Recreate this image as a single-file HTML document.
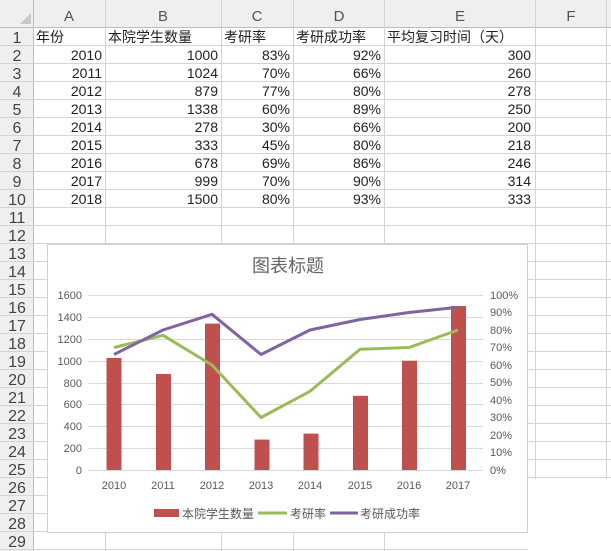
<!DOCTYPE html>
<html><head><meta charset="utf-8"><style>
body{margin:0;background:#fff;}
svg{display:block;font-family:"Liberation Sans","Noto Sans CJK SC",sans-serif;}
</style></head><body>
<svg width="611" height="551" viewBox="0 0 611 551" xmlns="http://www.w3.org/2000/svg">
<rect width="611" height="551" fill="#fff"/>
<rect x="0" y="0" width="611" height="27" fill="#efefef"/>
<rect x="0" y="0" width="33" height="551" fill="#efefef"/>
<polygon points="20,24 31,24 31,13" fill="#c8c8c8"/>
<g stroke="#d4d4d4" stroke-width="1">
<line x1="0" y1="27.5" x2="611" y2="27.5" stroke="#bdbdbd"/>
<line x1="33.5" y1="0" x2="33.5" y2="551" stroke="#bdbdbd"/>
<line x1="105.5" y1="0" x2="105.5" y2="551"/>
<line x1="221.5" y1="0" x2="221.5" y2="551"/>
<line x1="293.5" y1="0" x2="293.5" y2="551"/>
<line x1="384.5" y1="0" x2="384.5" y2="551"/>
<line x1="535.5" y1="0" x2="535.5" y2="551"/>
<line x1="606.5" y1="0" x2="606.5" y2="551"/>
<line x1="0" y1="45.5" x2="611" y2="45.5"/><line x1="0" y1="63.5" x2="611" y2="63.5"/>
<line x1="0" y1="81.5" x2="611" y2="81.5"/><line x1="0" y1="99.5" x2="611" y2="99.5"/>
<line x1="0" y1="117.5" x2="611" y2="117.5"/><line x1="0" y1="135.5" x2="611" y2="135.5"/>
<line x1="0" y1="153.5" x2="611" y2="153.5"/><line x1="0" y1="171.5" x2="611" y2="171.5"/>
<line x1="0" y1="189.5" x2="611" y2="189.5"/><line x1="0" y1="207.5" x2="611" y2="207.5"/>
<line x1="0" y1="225.5" x2="611" y2="225.5"/><line x1="0" y1="243.5" x2="611" y2="243.5"/>
<line x1="0" y1="261.5" x2="611" y2="261.5"/><line x1="0" y1="279.5" x2="611" y2="279.5"/>
<line x1="0" y1="297.5" x2="611" y2="297.5"/><line x1="0" y1="315.5" x2="611" y2="315.5"/>
<line x1="0" y1="333.5" x2="611" y2="333.5"/><line x1="0" y1="351.5" x2="611" y2="351.5"/>
<line x1="0" y1="369.5" x2="611" y2="369.5"/><line x1="0" y1="387.5" x2="611" y2="387.5"/>
<line x1="0" y1="405.5" x2="611" y2="405.5"/><line x1="0" y1="423.5" x2="611" y2="423.5"/>
<line x1="0" y1="441.5" x2="611" y2="441.5"/><line x1="0" y1="459.5" x2="611" y2="459.5"/>
<line x1="0" y1="477.5" x2="611" y2="477.5"/><line x1="0" y1="495.5" x2="611" y2="495.5"/>
<line x1="0" y1="513.5" x2="611" y2="513.5"/><line x1="0" y1="531.5" x2="611" y2="531.5"/>
<line x1="0" y1="549.5" x2="611" y2="549.5"/>
</g>
<rect x="528" y="479" width="83" height="72" fill="#fff"/>
<g font-size="15" fill="#555" text-anchor="middle">
<text x="69" y="21">A</text><text x="163" y="21">B</text><text x="257" y="21">C</text>
<text x="339" y="21">D</text><text x="460" y="21">E</text><text x="571" y="21">F</text>
</g>
<g font-size="16" fill="#444" text-anchor="middle">
<text x="17" y="43">1</text><text x="17" y="61">2</text><text x="17" y="79">3</text><text x="17" y="97">4</text>
<text x="17" y="115">5</text><text x="17" y="133">6</text><text x="17" y="151">7</text><text x="17" y="169">8</text>
<text x="17" y="187">9</text><text x="17" y="205">10</text><text x="17" y="223">11</text><text x="17" y="241">12</text>
<text x="17" y="259">13</text><text x="17" y="277">14</text><text x="17" y="295">15</text><text x="17" y="313">16</text>
<text x="17" y="331">17</text><text x="17" y="349">18</text><text x="17" y="367">19</text><text x="17" y="385">20</text>
<text x="17" y="403">21</text><text x="17" y="421">22</text><text x="17" y="439">23</text><text x="17" y="457">24</text>
<text x="17" y="475">25</text><text x="17" y="493">26</text><text x="17" y="511">27</text><text x="17" y="529">28</text>
<text x="17" y="547">29</text>
</g>
<g font-size="14" fill="#222">
<text x="36" y="42">年份</text><text x="108" y="42">本院学生数量</text><text x="224" y="42">考研率</text>
<text x="296" y="42">考研成功率</text><text x="387" y="42">平均复习时间（天）</text>
</g>
<g font-size="14" fill="#222" text-anchor="end">
<text x="102" y="60">2010</text><text x="218" y="60">1000</text><text x="290" y="60">83%</text><text x="381" y="60">92%</text><text x="531" y="60">300</text>
<text x="102" y="78">2011</text><text x="218" y="78">1024</text><text x="290" y="78">70%</text><text x="381" y="78">66%</text><text x="531" y="78">260</text>
<text x="102" y="96">2012</text><text x="218" y="96">879</text><text x="290" y="96">77%</text><text x="381" y="96">80%</text><text x="531" y="96">278</text>
<text x="102" y="114">2013</text><text x="218" y="114">1338</text><text x="290" y="114">60%</text><text x="381" y="114">89%</text><text x="531" y="114">250</text>
<text x="102" y="132">2014</text><text x="218" y="132">278</text><text x="290" y="132">30%</text><text x="381" y="132">66%</text><text x="531" y="132">200</text>
<text x="102" y="150">2015</text><text x="218" y="150">333</text><text x="290" y="150">45%</text><text x="381" y="150">80%</text><text x="531" y="150">218</text>
<text x="102" y="168">2016</text><text x="218" y="168">678</text><text x="290" y="168">69%</text><text x="381" y="168">86%</text><text x="531" y="168">246</text>
<text x="102" y="186">2017</text><text x="218" y="186">999</text><text x="290" y="186">70%</text><text x="381" y="186">90%</text><text x="531" y="186">314</text>
<text x="102" y="204">2018</text><text x="218" y="204">1500</text><text x="290" y="204">80%</text><text x="381" y="204">93%</text><text x="531" y="204">333</text>
</g>
<rect x="47.5" y="244.5" width="480" height="288" fill="#fff" stroke="#d0d0d0"/>
<text x="288" y="272" font-size="18" fill="#666" text-anchor="middle">图表标题</text>
<g stroke="#d9d9d9" stroke-width="1">
<line x1="88" y1="295.5" x2="483" y2="295.5"/><line x1="88" y1="317.5" x2="483" y2="317.5"/>
<line x1="88" y1="339.5" x2="483" y2="339.5"/><line x1="88" y1="361.5" x2="483" y2="361.5"/>
<line x1="88" y1="383.5" x2="483" y2="383.5"/><line x1="88" y1="404.5" x2="483" y2="404.5"/>
<line x1="88" y1="426.5" x2="483" y2="426.5"/><line x1="88" y1="448.5" x2="483" y2="448.5"/>
<line x1="88" y1="470.5" x2="483" y2="470.5"/>
</g>
<g font-size="11" fill="#595959" text-anchor="end">
<text x="82" y="299">1600</text><text x="82" y="321">1400</text><text x="82" y="343">1200</text>
<text x="82" y="365">1000</text><text x="82" y="387">800</text><text x="82" y="408">600</text>
<text x="82" y="430">400</text><text x="82" y="452">200</text><text x="82" y="474">0</text>
</g>
<g font-size="11" fill="#595959">
<text x="490" y="299">100%</text><text x="490" y="316">90%</text><text x="490" y="334">80%</text>
<text x="490" y="351">70%</text><text x="490" y="369">60%</text><text x="490" y="386">50%</text>
<text x="490" y="404">40%</text><text x="490" y="421">30%</text><text x="490" y="439">20%</text>
<text x="490" y="456">10%</text><text x="490" y="474">0%</text>
</g>
<g fill="#c0504d">
<rect x="106.5" y="358" width="15" height="112"/>
<rect x="156" y="374" width="15" height="96"/>
<rect x="205" y="323.6" width="15" height="146.4"/>
<rect x="254.5" y="439.6" width="15" height="30.4"/>
<rect x="303.5" y="433.6" width="15" height="36.4"/>
<rect x="353" y="395.8" width="15" height="74.2"/>
<rect x="402" y="360.7" width="15" height="109.3"/>
<rect x="451" y="306" width="15" height="164"/>
</g>
<polyline fill="none" stroke="#9bbb59" stroke-width="3" stroke-linejoin="round" points="114,347.5 163,335.3 212,365 261,417.5 310,391.3 360,349.3 409,347.5 458,330"/>
<polyline fill="none" stroke="#8064a2" stroke-width="3" stroke-linejoin="round" points="114,354.5 163,330 212,314.3 261,354.5 310,330 360,319.5 409,312.5 458,307.3"/>
<g font-size="11" fill="#595959" text-anchor="middle">
<text x="114" y="489">2010</text><text x="163" y="489">2011</text><text x="212" y="489">2012</text>
<text x="261" y="489">2013</text><text x="310" y="489">2014</text><text x="360" y="489">2015</text>
<text x="409" y="489">2016</text><text x="458" y="489">2017</text>
</g>
<rect x="154" y="509" width="25" height="8" fill="#c0504d"/>
<text x="182" y="518" font-size="12" fill="#595959">本院学生数量</text>
<line x1="258" y1="513" x2="287" y2="513" stroke="#9bbb59" stroke-width="3"/>
<text x="290" y="518" font-size="12" fill="#595959">考研率</text>
<line x1="330" y1="513" x2="358" y2="513" stroke="#8064a2" stroke-width="3"/>
<text x="360" y="518" font-size="12" fill="#595959">考研成功率</text>
</svg>
</body></html>
